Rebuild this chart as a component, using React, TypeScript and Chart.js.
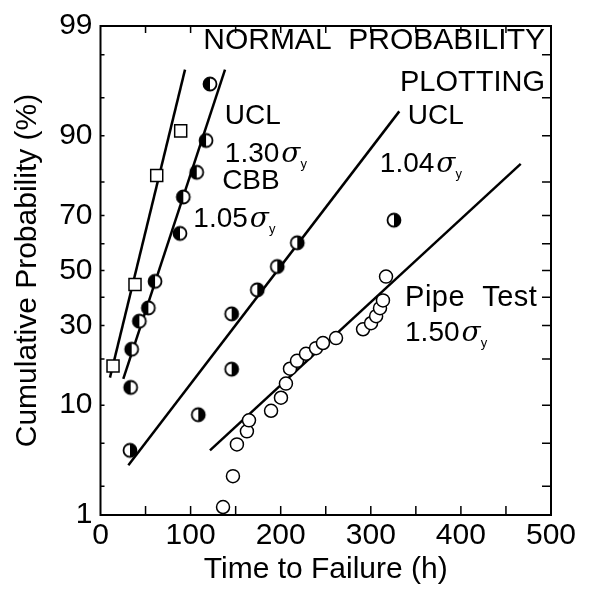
import { useEffect, useRef } from 'react';
import { Chart, registerables, LinearScale } from 'chart.js';

Chart.register(...registerables);

// ---------------- data ----------------
const X_MIN = 0;
const X_MAX = 500;
const X_LABEL_STEP = 100;
const X_MINOR_TICKS = [50, 100, 150, 200, 250, 300, 350, 400, 450];
const Y_MIN = 1;
const Y_MAX = 99;
const Y_TICK_LABELS = [1, 10, 30, 50, 70, 90, 99];
const Y_FRAME_TICKS = [2, 5, 10, 20, 30, 40, 50, 60, 70, 80, 90, 95, 98];

// squares (leftmost line)
const squareTime = [13.9, 38.3, 62.4, 89.0];
const squareProb = [18.2, 44.7, 81.7, 90.8];
const squareFitTime = [10.5, 93.8];
const squareFitProb = [15.4, 97.2];

// half-filled circles, second line
const leftHalfTime = [33.5, 34.6, 43.1, 53.1, 60.5, 88.2, 91.9, 106.8, 117.1, 121.5];
const leftHalfProb = [13.3, 22.7, 31.5, 36.1, 45.9, 63.8, 75.8, 82.5, 89.2, 96.2];
const leftHalfFitTime = [25.3, 138.2];
const leftHalfFitProb = [15.1, 97.2];

// half-filled circles, UCL 1.04 sigma line
const rightHalfTime = [32.7, 108.5, 145.6, 145.6, 174.0, 196.2, 218.4, 325.7];
const rightHalfProb = [4.35, 8.5, 17.4, 34.0, 42.7, 51.5, 60.4, 68.4];
const rightHalfFitTime = [30.9, 331.6];
const rightHalfFitProb = [3.2, 93.5];

// open circles, pipe test
const pipeTime = [136.0, 147.0, 151.4, 162.5, 164.8, 189.3, 200.3, 205.8, 210.3, 218.1, 228.1, 239.2, 246.9, 261.4, 291.4, 300.3, 305.9, 310.2, 313.5, 316.9];
const pipeProb = [1.22, 2.52, 4.9, 6.3, 7.7, 9.1, 11.3, 14.1, 17.5, 19.5, 21.4, 23.0, 24.5, 26.0, 28.8, 30.8, 33.2, 36.0, 38.8, 47.7];
const pipeFitTime = [121.5, 466.4];
const pipeFitProb = [4.35, 84.5];

const FONT = "'Liberation Sans', Arial, sans-serif";

// text annotations (time, probability, alignment)
const annotations: { text: string; sigma: boolean; x: number; y: number; align: CanvasTextAlign; size: number; spacing: number }[] = [
  { text: 'NORMAL  PROBABILITY', sigma: false, x: 493.3, y: 98.25, align: 'right', size: 30, spacing: 0 },
  { text: 'PLOTTING', sigma: false, x: 493.3, y: 95.65, align: 'right', size: 29, spacing: 0 },
  { text: 'UCL', sigma: false, x: 138, y: 91.8, align: 'left', size: 28, spacing: 0 },
  { text: '1.30', sigma: true, x: 138, y: 84.9, align: 'left', size: 28, spacing: 0 },
  { text: 'CBB', sigma: false, x: 135, y: 78.0, align: 'left', size: 28, spacing: 0 },
  { text: '1.05', sigma: true, x: 103, y: 66.1, align: 'left', size: 28, spacing: 0 },
  { text: 'UCL', sigma: false, x: 341, y: 91.8, align: 'left', size: 28, spacing: 0 },
  { text: '1.04', sigma: true, x: 310, y: 82.5, align: 'left', size: 28, spacing: 0 },
  { text: 'Pipe  Test', sigma: false, x: 338, y: 36.7, align: 'left', size: 29, spacing: 0.5 },
  { text: '1.50', sigma: true, x: 338, y: 25.1, align: 'left', size: 28, spacing: 0 },
];

// ---------------- probit scale ----------------
function probit(p: number): number {
  const a = [-3.969683028665376e1, 2.209460984245205e2, -2.759285104469687e2, 1.38357751867269e2, -3.066479806614716e1, 2.506628277459239];
  const b = [-5.447609879822406e1, 1.615858368580409e2, -1.556989798598866e2, 6.680131188771972e1, -1.328068155288572e1];
  const c = [-7.784894002430293e-3, -3.223964580411365e-1, -2.400758277161838, -2.549732539343734, 4.374664141464968, 2.938163982698783];
  const d = [7.784695709041462e-3, 3.224671290700398e-1, 2.445134137142996, 3.754408661907416];
  const pl = 0.02425;
  if (p < pl) {
    const q = Math.sqrt(-2 * Math.log(p));
    return (((((c[0] * q + c[1]) * q + c[2]) * q + c[3]) * q + c[4]) * q + c[5]) / ((((d[0] * q + d[1]) * q + d[2]) * q + d[3]) * q + 1);
  }
  if (p <= 1 - pl) {
    const q = p - 0.5;
    const r = q * q;
    return ((((((a[0] * r + a[1]) * r + a[2]) * r + a[3]) * r + a[4]) * r + a[5]) * q) / (((((b[0] * r + b[1]) * r + b[2]) * r + b[3]) * r + b[4]) * r + 1);
  }
  const q = Math.sqrt(-2 * Math.log(1 - p));
  return -(((((c[0] * q + c[1]) * q + c[2]) * q + c[3]) * q + c[4]) * q + c[5]) / ((((d[0] * q + d[1]) * q + d[2]) * q + d[3]) * q + 1);
}

class ProbitScale extends LinearScale {
  static id = 'probit';
  static defaults = {};
  determineDataLimits() {
    (this as any).min = Y_MIN;
    (this as any).max = Y_MAX;
  }
  buildTicks() {
    return Y_TICK_LABELS.map((v) => ({ value: v }));
  }
  getPixelForValue(value: number) {
    const z0 = probit((this as any).min / 100);
    const z1 = probit((this as any).max / 100);
    return this.getPixelForDecimal((probit(value / 100) - z0) / (z1 - z0));
  }
  getValueForPixel(pixel: number) {
    const z0 = probit((this as any).min / 100);
    const z1 = probit((this as any).max / 100);
    const z = z0 + this.getDecimalForPixel(pixel) * (z1 - z0);
    let lo = 0.0001, hi = 0.9999;
    for (let i = 0; i < 50; i++) {
      const m = (lo + hi) / 2;
      if (probit(m) < z) lo = m; else hi = m;
    }
    return ((lo + hi) / 2) * 100;
  }
}
Chart.register(ProbitScale as any);

// ---------------- markers ----------------
function halfCircle(side: 'left' | 'right'): HTMLCanvasElement {
  const cv = document.createElement('canvas');
  cv.width = 18;
  cv.height = 18;
  const ctx = cv.getContext('2d')!;
  const r = 6.5;
  ctx.beginPath();
  ctx.arc(9, 9, r, 0, Math.PI * 2);
  ctx.fillStyle = '#fff';
  ctx.fill();
  ctx.beginPath();
  if (side === 'left') ctx.arc(9, 9, r, Math.PI / 2, (3 * Math.PI) / 2);
  else ctx.arc(9, 9, r, -Math.PI / 2, Math.PI / 2);
  ctx.closePath();
  ctx.fillStyle = '#000';
  ctx.fill();
  ctx.beginPath();
  ctx.arc(9, 9, r, 0, Math.PI * 2);
  ctx.lineWidth = 1.8;
  ctx.strokeStyle = '#000';
  ctx.stroke();
  return cv;
}

const pts = (xs: number[], ys: number[]) => xs.map((x, i) => ({ x, y: ys[i] }));

const framePlugin = {
  id: 'frame',
  afterDatasetsDraw(chart: any) {
    const { ctx, chartArea: ca, scales } = chart;
    ctx.save();
    ctx.strokeStyle = '#000';
    ctx.lineWidth = 2;
    ctx.strokeRect(ca.left, ca.top, ca.right - ca.left, ca.bottom - ca.top);
    ctx.lineWidth = 1.5;
    ctx.beginPath();
    for (const v of X_MINOR_TICKS) {
      const px = scales.x.getPixelForValue(v);
      ctx.moveTo(px, ca.bottom);
      ctx.lineTo(px, ca.bottom - 9);
      ctx.moveTo(px, ca.top);
      ctx.lineTo(px, ca.top + 7);
    }
    for (const v of Y_FRAME_TICKS) {
      const py = scales.y.getPixelForValue(v);
      ctx.moveTo(ca.right, py);
      ctx.lineTo(ca.right - 9, py);
      ctx.moveTo(ca.left, py);
      ctx.lineTo(ca.left + 4, py);
    }
    ctx.stroke();
    ctx.restore();
  },
};

const textPlugin = {
  id: 'texts',
  afterDatasetsDraw(chart: any) {
    const { ctx, scales } = chart;
    ctx.save();
    ctx.fillStyle = '#000';
    ctx.textBaseline = 'alphabetic';
    for (const a of annotations) {
      const px = scales.x.getPixelForValue(a.x);
      const py = scales.y.getPixelForValue(a.y);
      ctx.font = `${a.size}px ${FONT}`;
      (ctx as any).letterSpacing = `${a.spacing}px`;
      ctx.textAlign = a.align;
      ctx.fillText(a.text, px, py);
      (ctx as any).letterSpacing = '0px';
      if (a.sigma) {
        const w = ctx.measureText(a.text).width;
        ctx.textAlign = 'left';
        ctx.font = `italic ${a.size}px 'DejaVu Serif', serif`;
        ctx.fillText('σ', px + w + 2, py);
        const ws = ctx.measureText('σ').width;
        ctx.font = `13px ${FONT}`;
        ctx.fillText('y', px + w + 2 + ws, py + 6);
      }
    }
    ctx.restore();
  },
};

export default function App() {
  const ref = useRef<HTMLCanvasElement>(null);
  useEffect(() => {
    const lineStyle = { type: 'line' as const, showLine: true, borderColor: '#000', borderWidth: 2.5, pointRadius: 0, order: 10 };
    const chart = new Chart(ref.current!, {
      type: 'scatter',
      data: {
        datasets: [
          { ...lineStyle, data: pts(squareFitTime, squareFitProb) },
          { ...lineStyle, data: pts(leftHalfFitTime, leftHalfFitProb) },
          { ...lineStyle, data: pts(rightHalfFitTime, rightHalfFitProb) },
          { ...lineStyle, data: pts(pipeFitTime, pipeFitProb) },
          { data: pts(squareTime, squareProb), pointStyle: 'rect', pointRadius: 8.5, borderColor: '#000', borderWidth: 1.5, backgroundColor: '#fff', order: 0 },
          { data: pts(leftHalfTime, leftHalfProb), pointStyle: halfCircle('left'), order: 0 },
          { data: pts(rightHalfTime, rightHalfProb), pointStyle: halfCircle('right'), order: 0 },
          { data: pts(pipeTime, pipeProb), pointStyle: 'circle', pointRadius: 6.5, borderColor: '#000', borderWidth: 1.5, backgroundColor: '#fff', order: 0 },
        ] as any,
      },
      options: {
        animation: false,
        responsive: false,
        devicePixelRatio: 1,
        layout: { padding: { top: 21, right: 41, left: 0, bottom: 0 } },
        plugins: { legend: { display: false }, tooltip: { enabled: false } },
        scales: {
          x: {
            type: 'linear',
            min: X_MIN,
            max: X_MAX,
            grid: { display: false, drawTicks: false },
            border: { display: false },
            ticks: { stepSize: X_LABEL_STEP, color: '#000', font: { family: FONT, size: 30 }, padding: 3, maxRotation: 0 },
            title: { display: true, text: 'Time to Failure (h)', color: '#000', font: { family: FONT, size: 30 }, padding: { top: 0, bottom: 1 } },
            afterFit: (s: any) => { s.height = 74; },
          },
          y: {
            type: 'probit' as any,
            grid: { display: false, drawTicks: false },
            border: { display: false },
            ticks: { color: '#000', font: { family: FONT, size: 30 }, padding: 8, callback: (v: any) => String(v) },
            title: { display: true, text: 'Cumulative Probability (%)', color: '#000', font: { family: FONT, size: 30 }, padding: { top: 10, bottom: 0 } },
            afterFit: (s: any) => { s.width = 100.5; },
          } as any,
        },
      },
      plugins: [framePlugin, textPlugin],
    });
    return () => chart.destroy();
  }, []);
  return (
    <div style={{ position: 'absolute', left: 0, top: 0, width: 592, height: 589, background: '#fff' }}>
      <canvas ref={ref} width={592} height={589} />
    </div>
  );
}
